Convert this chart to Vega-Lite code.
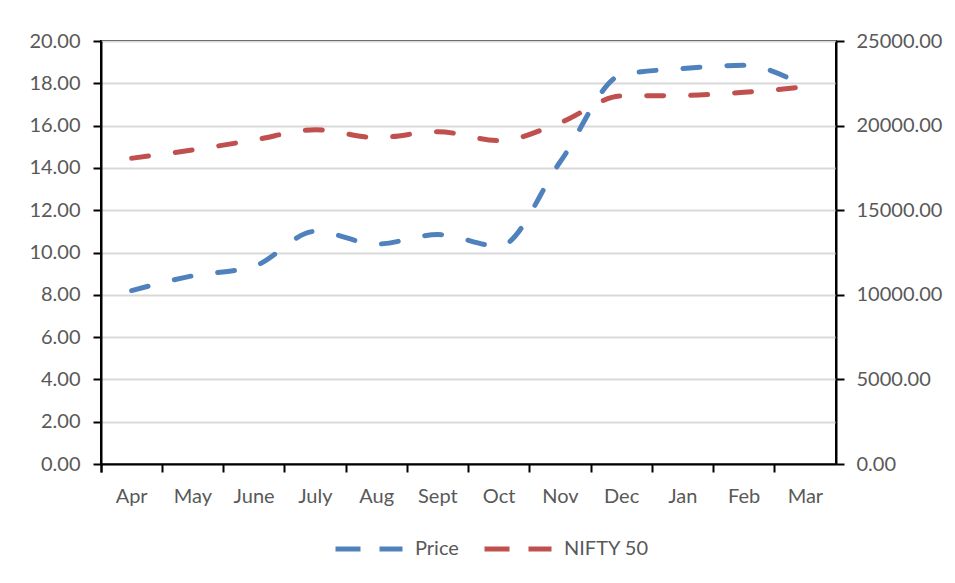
{
  "$schema": "https://vega.github.io/schema/vega-lite/v6.json",
  "width": 735,
  "height": 423,
  "autosize": {"type": "none"},
  "padding": {"left": 101, "top": 41, "right": 119, "bottom": 119},
  "background": "white",
  "config": {
    "font": "Lato",
    "view": {"stroke": "#000000", "strokeWidth": 2},
    "axis": {
      "labelFont": "Lato",
      "labelFontSize": 20,
      "labelColor": "#595959",
      "domainColor": "#000000",
      "domainWidth": 2,
      "tickColor": "#000000",
      "tickWidth": 2,
      "tickSize": 8,
      "title": null
    },
    "legend": {
      "labelFont": "Lato",
      "labelFontSize": 20,
      "labelColor": "#595959"
    }
  },
  "data": {
    "values": [
      {"month": "Apr", "Price": 8.2, "NIFTY": 18070},
      {"month": "May", "Price": 8.9, "NIFTY": 18560},
      {"month": "June", "Price": 9.35, "NIFTY": 19150},
      {"month": "July", "Price": 11.0, "NIFTY": 19760},
      {"month": "Aug", "Price": 10.4, "NIFTY": 19290},
      {"month": "Sept", "Price": 10.85, "NIFTY": 19640},
      {"month": "Oct", "Price": 10.3, "NIFTY": 19110},
      {"month": "Nov", "Price": 14.3, "NIFTY": 20180},
      {"month": "Dec", "Price": 18.4, "NIFTY": 21750},
      {"month": "Jan", "Price": 18.7, "NIFTY": 21780},
      {"month": "Feb", "Price": 18.85, "NIFTY": 21970},
      {"month": "Mar", "Price": 17.84, "NIFTY": 22290}
    ]
  },
  "encoding": {
    "x": {
      "field": "month",
      "type": "nominal",
      "sort": null,
      "bandPosition": 0.5,
      "scale": {"type": "band", "paddingInner": 0, "paddingOuter": 0},
      "axis": {"labelAngle": 0, "bandPosition": 0, "tickExtra": true, "labelPadding": 14, "grid": false}
    }
  },
  "layer": [
    {
      "mark": {"type": "line", "strokeWidth": 5, "strokeDash": [17, 27], "strokeCap": "round", "interpolate": "monotone"},
      "encoding": {
        "y": {
          "field": "Price",
          "type": "quantitative",
          "scale": {"domain": [0, 20], "nice": false},
          "axis": {"values": [0, 2, 4, 6, 8, 10, 12, 14, 16, 18, 20], "format": ".2f", "orient": "left", "grid": true, "gridColor": "#D9D9D9", "gridWidth": 2, "labelPadding": 13}
        },
        "color": {
          "datum": "Price",
          "type": "nominal",
          "scale": {"domain": ["Price", "NIFTY 50"], "range": ["#4F81BD", "#C0504D"]},
          "legend": {
            "title": null,
            "orient": "none",
            "direction": "horizontal",
            "legendX": 232,
            "legendY": 472,
            "symbolType": "stroke",
            "symbolSize": 4489,
            "symbolStrokeWidth": 5,
            "symbolDash": [25, 19],
            "labelOffset": 10,
            "columnPadding": 15
          }
        }
      }
    },
    {
      "mark": {"type": "line", "strokeWidth": 5, "strokeDash": [17, 27], "strokeCap": "round", "interpolate": "monotone"},
      "encoding": {
        "y": {
          "field": "NIFTY",
          "type": "quantitative",
          "scale": {"domain": [0, 25000], "nice": false},
          "axis": {"values": [0, 5000, 10000, 15000, 20000, 25000], "format": ".2f", "orient": "right", "grid": false, "labelPadding": 12}
        },
        "color": {"datum": "NIFTY 50", "type": "nominal"}
      }
    }
  ],
  "resolve": {"scale": {"y": "independent"}}
}
